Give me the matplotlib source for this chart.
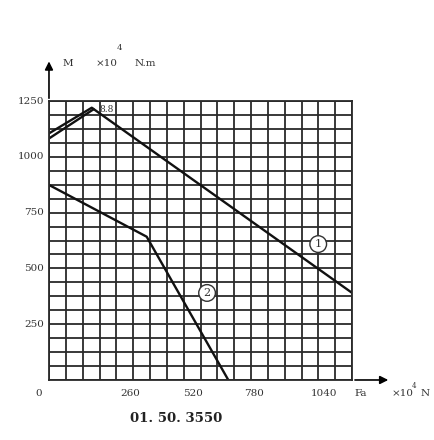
import numpy as np
import matplotlib.pyplot as plt
from matplotlib.transforms import ScaledTranslation

# curve 1 (double line at the start), curve 2
c1_up_x = [0, 165, 1170]
c1_up_y = [1105, 1220, 390]
c1_lo_x = [0, 172]
c1_lo_y = [1082, 1213]
c2_x = [0, 377, 692]
c2_y = [874, 642, 0]

xticks = [0, 260, 520, 780, 1040]
yticks = [250, 500, 750, 1000, 1250]

plt.rcParams['font.family'] = ['DejaVu Serif']
fig = plt.figure(figsize=(4.35, 4.4), dpi=100)
ax = fig.add_axes([0.1126, 0.1364, 0.697, 0.634])

ax.set_xlim(0, 1170)
ax.set_ylim(0, 1250)
ax.set_xticks(np.arange(0, 1171, 65))
ax.set_yticks(np.arange(0, 1251, 62.5))
ax.tick_params(length=0, labelbottom=False, labelleft=False)
ax.grid(True, color='#2a2a2a', linewidth=1.3)
for s in ax.spines.values():
    s.set_color('#2a2a2a')
    s.set_linewidth(1.3)
ax.set_axisbelow(True)

ax.plot(c1_up_x, c1_up_y, color='#111111', lw=1.7)
ax.plot(c1_lo_x, c1_lo_y, color='#111111', lw=1.7)
ax.plot(c2_x, c2_y, color='#111111', lw=1.7)

fs = 7.5
off = {0: -10, 260: 14, 520: 9, 780: 3, 1040: 6}
for v in xticks:
    tr = ax.transData + ScaledTranslation(off[v] / 100, 0, fig.dpi_scale_trans)
    ax.text(v, -60, str(v), transform=tr, ha='center', va='center', fontsize=fs, color='#333333')
for v in yticks:
    ax.text(-18, v, str(v), ha='right', va='center', fontsize=fs, color='#333333')

ax.text(195, 1212, '8.8', fontsize=6.5, ha='left', va='center', color='#333333')
ax.text(1039, 609, '1', fontsize=8, ha='center', va='center', color='#333333',
        bbox=dict(boxstyle='circle,pad=0.3', fc='white', ec='#333333', lw=1.0))
ax.text(610, 390, '2', fontsize=8, ha='center', va='center', color='#333333',
        bbox=dict(boxstyle='circle,pad=0.3', fc='white', ec='#333333', lw=1.0))

# axis arrows
ax.annotate('', xy=(0, 1440), xytext=(0, 1250), xycoords='data', annotation_clip=False,
            arrowprops=dict(arrowstyle='-|>', color='black', lw=1.2, mutation_scale=12))
ax.annotate('', xy=(1320, 0), xytext=(1170, 0), xycoords='data', annotation_clip=False,
            arrowprops=dict(arrowstyle='-|>', color='black', lw=1.2, mutation_scale=12))

fig.text(68 / 435, 1 - 63 / 440, 'M', fontsize=fs, ha='center', va='center', color='#333333')
fig.text(107 / 435, 1 - 63 / 440, '×10', fontsize=fs, ha='center', va='center', color='#333333')
fig.text(119 / 435, 1 - 48 / 440, '4', fontsize=6, ha='center', va='center', color='#333333')
fig.text(145 / 435, 1 - 63 / 440, 'N.m', fontsize=fs, ha='center', va='center', color='#333333')
fig.text(361 / 435, 1 - 393 / 440, 'Fa', fontsize=fs, ha='center', va='center', color='#333333')
fig.text(403 / 435, 1 - 393 / 440, '×10', fontsize=fs, ha='center', va='center', color='#333333')
fig.text(414 / 435, 1 - 386 / 440, '4', fontsize=5, ha='center', va='center', color='#333333')
fig.text(425 / 435, 1 - 393 / 440, 'N', fontsize=fs, ha='center', va='center', color='#333333')
fig.text(176 / 435, 1 - 418 / 440, '01. 50. 3550', fontsize=9.5, fontweight='bold',
         ha='center', va='center', color='#222222')

fig.savefig('out.png', dpi=100)
